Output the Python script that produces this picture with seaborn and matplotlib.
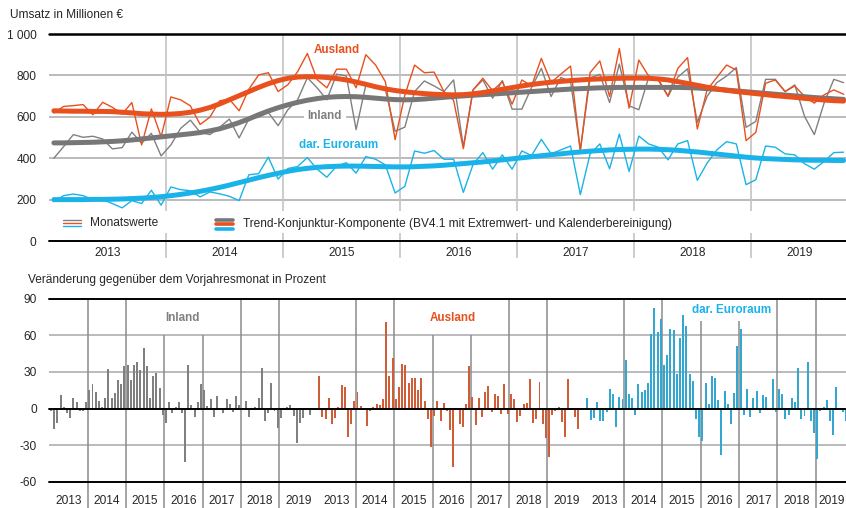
import matplotlib
matplotlib.use("Agg")
import matplotlib.pyplot as plt
from matplotlib.lines import Line2D
import pandas as pd
import seaborn as sns

# --- data (Jan 2013 .. Oct 2019, 82 months) ---
years = ["2013", "2014", "2015", "2016", "2017", "2018", "2019"]

inland_monthly = [400, 456, 514, 501, 506, 493, 445, 451, 526, 472, 520, 411,
                  464, 544, 584, 525, 514, 549, 589, 498, 589, 598, 621, 557,
                  634, 682, 789, 740, 682, 806, 797, 538, 754, 742, 733, 530,
                  550, 722, 773, 749, 722, 778, 455, 730, 778, 690, 775, 637,
                  637, 742, 834, 698, 790, 770, 440, 788, 805, 669, 855, 653,
                  634, 789, 776, 698, 792, 832, 573, 698, 765, 797, 838, 549,
                  578, 781, 781, 722, 754, 602, 514, 666, 781, 765]
ausland_monthly = [618, 650, 654, 659, 610, 670, 646, 613, 669, 464, 638, 504,
                   696, 682, 653, 563, 598, 677, 685, 629, 733, 802, 813, 722,
                   755, 818, 906, 780, 740, 830, 830, 740, 900, 850, 770, 490,
                   705, 850, 813, 816, 722, 680, 446, 730, 786, 726, 770, 661,
                   778, 749, 882, 766, 806, 845, 434, 813, 870, 698, 930, 642,
                   874, 797, 781, 701, 834, 886, 541, 730, 790, 850, 826, 485,
                   525, 762, 778, 722, 749, 698, 666, 706, 730, 709]
euro_monthly = [190, 219, 227, 219, 200, 200, 181, 160, 195, 181, 245, 173,
                261, 248, 243, 213, 237, 228, 216, 195, 320, 325, 405, 299,
                350, 360, 403, 347, 308, 362, 378, 328, 408, 395, 368, 232,
                264, 435, 424, 437, 395, 395, 235, 370, 427, 347, 416, 347,
                435, 413, 491, 421, 440, 459, 224, 420, 469, 349, 517, 336,
                507, 469, 453, 392, 469, 485, 293, 376, 440, 480, 469, 272,
                296, 459, 453, 421, 416, 373, 347, 384, 427, 429]

inland_trend = [474, 474, 475, 476, 477, 479, 481, 484, 488, 493, 498, 503,
                508, 513, 518, 524, 532, 542, 556, 572, 590, 610, 628, 644,
                658, 670, 680, 688, 694, 697, 698, 697, 694, 690, 686, 683,
                682, 683, 686, 690, 694, 698, 701, 704, 707, 710, 713, 716,
                719, 722, 725, 728, 731, 734, 736, 738, 740, 741, 742, 742,
                742, 742, 742, 742, 742, 741, 739, 736, 733, 729, 725, 721,
                717, 713, 709, 705, 701, 697, 693, 690, 687, 684]
ausland_trend = [629, 628, 627, 627, 626, 626, 625, 622, 619, 615, 613, 612,
                 613, 616, 622, 632, 645, 662, 682, 702, 722, 742, 760, 775,
                 786, 792, 794, 793, 790, 785, 778, 768, 757, 745, 735, 727,
                 721, 716, 712, 709, 707, 706, 707, 711, 717, 725, 733, 741,
                 749, 756, 762, 767, 771, 775, 778, 781, 783, 785, 786, 787,
                 787, 786, 783, 778, 770, 761, 752, 743, 735, 728, 722, 717,
                 712, 707, 702, 698, 694, 689, 685, 681, 678, 676]
euro_trend = [200, 200, 200, 200, 201, 201, 202, 203, 205, 207, 210, 214,
              219, 225, 232, 240, 249, 259, 270, 282, 294, 306, 317, 327,
              337, 345, 351, 356, 359, 361, 362, 362, 361, 360, 359, 358,
              358, 359, 361, 363, 366, 370, 374, 378, 382, 387, 392, 397,
              402, 407, 412, 417, 421, 426, 430, 434, 437, 440, 442, 443,
              444, 444, 443, 441, 438, 434, 430, 425, 420, 415, 410, 405,
              401, 398, 396, 394, 392, 391, 390, 390, 389, 389]

# year-on-year change in percent
inland_yoy = [-2, -17, -12, 11, 1, -4, -8, 9, 5, -2, -2, 5,
              15.5, 20, 13.6, 6, 1, 9, 32.5, 9, 12.3, 23.7, 20, 35,
              35.5, 23, 36, 38.5, 31.4, 50, 34.6, 8.7, 26.5, 29, 16.6, -5.5,
              -12, 5.7, -3.5, 1, 5, -4, -43.6, 35.7, 3, -7, 5.7, 20,
              15, 2, 8, -7, 10, -1, -4, 8, 4, -3, 10, 3,
              0.5, 6, -7, 0.5, 1, 9, 33, -10, -4, 21, -2, -16,
              -8, 0.5, 1, 3, -6, -28, -12, -8, -1, -5]
ausland_yoy = [26.5, -6.8, -9, 8.2, -12.3, -7.4, 1, 19, 17.5, -23.7, -12.3, 6.5,
               13.4, 2, 0.5, -14.5, -2, 1, 3.5, 2.5, 7.4, 70.9, 27, 41.5,
               7.9, 17.5, 36.8, 36, 21.3, 25.4, 25.4, 15.5, 24.8, 6, -8.2, -31.9,
               -6.3, 6.5, -10.4, 4.9, -2, -17.7, -48.3, -1, -13, -15, 3.5, 34.9,
               9.5, -13.6, 8.7, -6.8, 13.9, 18.8, -3, 11.5, 10.4, -4.4, 19.9, -4.1,
               11.7, 7.6, -10.9, -6, 3.5, 4.6, 24.5, -11.7, -9, 21.8, -12.3, -24,
               -40, -5, -2, 1, -11, -23, 24, -1, -7, -17]
euro_yoy = [9, -9.5, -8, 5.5, -10, -10.4, -3, 16, 12, -15, 9.5, 7.4,
            39.5, 11.7, 8.2, -5.5, 19.9, 13.4, 15.5, 21, 61.4, 82.6, 62.7, 73,
            35.5, 43.6, 65.5, 64, 28.6, 58, 76.4, 68, 28, 22.4, -8.7, -23,
            -27, 21, 4, 26.5, 25.4, 7, -38, 14.5, 4, -12.8, 12.3, 51.3,
            65.5, -5.5, 15.8, -6.8, 9, 14.7, -4, 10.9, 9.5, 0, 24, -2.7,
            16, 12, -9, -5, 9, 5, 33, -9, -6, 38, -10, -20,
            -41, -2, 1, 7, -10, -22, 18, -1, -3, -10]

GREY = "#808080"
GREY_T = "#777777"
ORANGE = "#e8501e"
BLUE = "#19b3ea"
GRID = "#a8a8a8"

sns.set_style("white")
plt.rcParams['font.family'] = ['Liberation Sans', 'DejaVu Sans']
FS = 8.6

fig = plt.figure(figsize=(8.46, 5.08), dpi=100)
W, H = 846, 508
ax1 = fig.add_axes([49 / W, 1 - 241 / H, 797 / W, 207 / H])
ax2 = fig.add_axes([49.4 / W, 1 - 481.7 / H, 796.6 / W, 183 / H])

# ---------- top panel ----------
months = list(range(len(inland_monthly)))
for v in [200, 400, 600, 800]:
    ax1.axhline(v, color=GRID, lw=1.1, zorder=0)
for k in range(1, 7):
    x = 12 * k - 0.5
    ax1.vlines(x, 146, 1000, color="#c4c4c4", lw=1.2, zorder=0, clip_on=False)
    ax1.vlines(x, -82, 40, color="#c4c4c4", lw=1.2, zorder=0, clip_on=False)

sns.lineplot(x=months, y=inland_monthly, ax=ax1, color=GREY, lw=1.0, zorder=2)
sns.lineplot(x=months, y=ausland_monthly, ax=ax1, color=ORANGE, lw=1.0, zorder=3)
sns.lineplot(x=months, y=euro_monthly, ax=ax1, color=BLUE, lw=1.0, zorder=3)
sns.lineplot(x=months, y=inland_trend, ax=ax1, color=GREY_T, lw=3.6, zorder=4)
sns.lineplot(x=months, y=ausland_trend, ax=ax1, color=ORANGE, lw=3.6, zorder=5)
sns.lineplot(x=months, y=euro_trend, ax=ax1, color=BLUE, lw=3.6, zorder=5)

ax1.axhline(1000, color="black", lw=1.8, clip_on=False, zorder=6)
ax1.axhline(0, color="black", lw=1.4, clip_on=False, zorder=6)
ax1.set_xlim(-0.5, 81.25)
ax1.set_ylim(0, 1000)
ax1.set_yticks([0, 200, 400, 600, 800, 1000])
ax1.set_yticklabels(["0", "200", "400", "600", "800", "1 000"])
ax1.set_xticks([])
ax1.tick_params(axis="y", length=0, pad=9, labelsize=FS)
for s in ax1.spines.values():
    s.set_visible(False)
for k, yr in enumerate(years):
    xc = 12 * k + 5.5 if k < 6 else 76.5
    ax1.text(xc, -57, yr, ha="center", va="center", fontsize=FS, clip_on=False)

ax1.text(29.0, 922, "Ausland", color=ORANGE, fontsize=8.4, fontweight="bold",
         ha="center", va="center")
ax1.text(27.8, 604, "Inland", color=GREY, fontsize=8.4, fontweight="bold",
         ha="center", va="center", zorder=7,
         bbox=dict(facecolor="white", edgecolor="none", pad=2.5))
ax1.text(29.2, 464, "dar. Euroraum", color=BLUE, fontsize=8.4, fontweight="bold",
         ha="center", va="center")

# legend drawn by hand
def fy(py):
    return 1 - py / H

for py, c in [(219.5, GREY), (222.5, ORANGE), (226, BLUE)]:
    fig.add_artist(Line2D([63 / W, 81 / W], [fy(py)] * 2, color=c, lw=1.0))
fig.text(90 / W, fy(223), "Monatswerte", fontsize=FS, va="center")
for py, c in [(219.5, GREY_T), (224.3, ORANGE), (229, BLUE)]:
    fig.add_artist(Line2D([216 / W, 233 / W], [fy(py)] * 2, color=c, lw=2.6))
fig.text(243 / W, fy(224), "Trend-Konjunktur-Komponente (BV4.1 mit Extremwert- und Kalenderbereinigung)",
         fontsize=FS, va="center")

fig.text(10 / W, fy(15), "Umsatz in Millionen €", fontsize=FS, va="center")
fig.text(28 / W, fy(280.5), "Veränderung gegenüber dem Vorjahresmonat in Prozent",
         fontsize=FS, va="center")

# ---------- bottom panel ----------
rows = []
for b, (name, vals) in enumerate([("Inland", inland_yoy), ("Ausland", ausland_yoy),
                                   ("Euroraum", euro_yoy)]):
    for i, v in enumerate(vals):
        rows.append({"slot": 84 * b + i, "value": v, "series": name})
bars = pd.DataFrame(rows)

for v in [60, 30, -30]:
    ax2.axhline(v, color=GRID, lw=1.1, zorder=0)
for b in range(3):
    for k in range(1, 7):
        top = 90
        if k in (3, 4):
            top = 60 if b < 2 else 72
        ax2.vlines(84 * b + 12 * k - 0.5, -81.5, top, color="#8c8c8c", lw=1.1,
                   zorder=1, clip_on=False)
    for k, yr in enumerate(years):
        if b == 2 and k == 6:
            # last label sits against the right edge of the picture
            ax2.text(248.6, -75.5, yr, ha="right", va="center",
                     fontsize=FS, clip_on=False)
        else:
            ax2.text(84 * b + 12 * k + 5.5, -75.5, yr, ha="center", va="center",
                     fontsize=FS, clip_on=False)

sns.barplot(data=bars, x="slot", y="value", hue="series", orient="x",
            palette={"Inland": GREY, "Ausland": ORANGE, "Euroraum": BLUE},
            native_scale=True, dodge=False, width=0.62, errorbar=None,
            linewidth=0, legend=False, ax=ax2, zorder=3)

for v in [90, 0, -60]:
    ax2.axhline(v, color="black", lw=1.4, clip_on=False, zorder=6)
ax2.set_xlim(-0.5, 249.0)
ax2.set_ylim(-60, 90)
ax2.set_yticks([-60, -30, 0, 30, 60, 90])
ax2.set_yticklabels(["-60", "-30", "0", "30", "60", "90"])
ax2.set_xticks([])
ax2.set_xlabel("")
ax2.set_ylabel("")
ax2.tick_params(axis="y", length=0, pad=9, labelsize=FS)
for s in ax2.spines.values():
    s.set_visible(False)

ax2.text(41.3, 74.4, "Inland", color=GREY, fontsize=8.4, fontweight="bold",
         ha="center", va="center")
ax2.text(125.8, 74.4, "Ausland", color=ORANGE, fontsize=8.4, fontweight="bold",
         ha="center", va="center")
ax2.text(213.2, 80.4, "dar. Euroraum", color=BLUE, fontsize=8.4, fontweight="bold",
         ha="center", va="center")

fig.savefig("out.png", dpi=100)
